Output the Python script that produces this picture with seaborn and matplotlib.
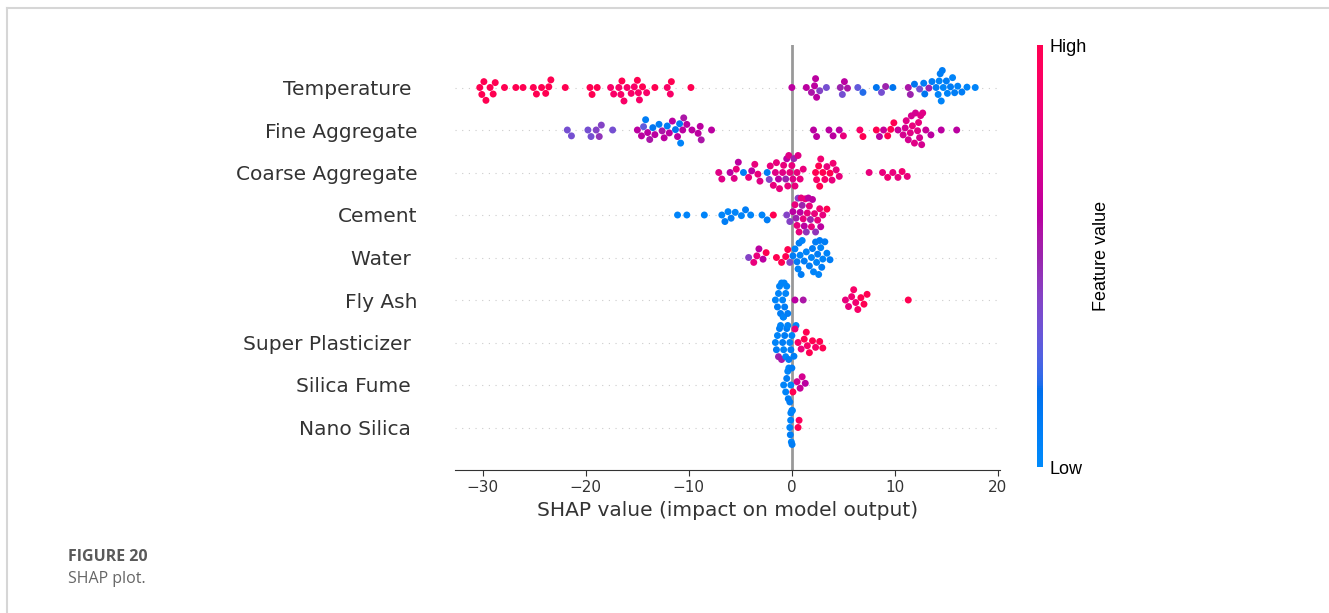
import warnings
warnings.filterwarnings("ignore")
import numpy as np
import pandas as pd
import matplotlib
matplotlib.use("Agg")
import matplotlib.pyplot as plt
from matplotlib import font_manager
from matplotlib.colors import LinearSegmentedColormap, Normalize
from matplotlib.cm import ScalarMappable
from matplotlib.lines import Line2D
import seaborn as sns

# ---------------- data ----------------
features = ["Temperature ", "Fine Aggregate", "Coarse Aggregate", "Cement",
            "Water ", "Fly Ash", "Super Plasticizer ", "Silica Fume ", "Nano Silica "]
xticks = [-30, -20, -10, 0, 10, 20]

temp_shap = [-30.3, -30.1, -29.9, -29.7, -29.3, -29.0, -28.8, -27.9, -26.8, -26.1, -25.1, -24.8,
             -24.3, -23.9, -23.6, -23.4, -22.0, -19.6, -19.4, -18.9, -17.6, -17.3, -16.8, -16.6,
             -16.5, -16.3, -16.0, -15.6, -15.3, -15.0, -14.9, -14.8, -14.5, -14.1, -13.3, -12.1,
             -11.8, -11.7, -9.8,
             0.0, 1.4, 1.9, 2.2, 2.3, 2.4, 2.7, 3.35, 4.7, 4.9, 5.1, 5.4, 6.4, 6.9, 8.2, 8.7, 9.1,
             9.8, 11.3, 11.5, 11.9, 12.4, 12.8, 12.9, 13.3, 13.6, 14.0, 14.2, 14.3, 14.4, 14.5,
             14.6, 14.7, 15.0, 15.1, 15.4, 15.6, 15.8, 16.1, 16.5, 17.0, 17.8]
temp_fv = [1, 1, 1, 1, 1, 1, 1, 1, 1, 1, 1, 1,
           1, 1, 1, 1, 1, 1, 1, 1, 0.9, 0.9, 0.9, 0.9,
           1, 0.9, 0.9, 0.9, 0.9, 1, 0.9, 0.9, 1, 0.9, 1, 0.9,
           0.9, 1, 1,
           0.6, 0.6, 0.55, 0.6, 0.6, 0.6, 0.4, 0.35, 0.5, 0.35, 0.6, 0.55, 0.3, 0.2, 0.15, 0.35, 0.5,
           0.15, 0.55, 0.5, 0.15, 0.35, 0.1, 0.15, 0.5, 0.1, 0.1, 0.05, 0.05, 0.1, 0.05,
           0.1, 0.05, 0.1, 0.05, 0.1, 0.05, 0.1, 0.05, 0.1, 0.05, 0.05]

fine_shap = [-21.8, -21.4, -19.8, -19.5, -19.0, -18.7, -18.5, -17.4, -15.0, -14.6, -14.4, -14.2,
             -14.0, -13.8, -13.5, -13.3, -12.9, -12.6, -12.4, -12.1, -11.9, -11.6, -11.3, -11.1,
             -10.9, -10.8, -10.6, -10.5, -10.2, -9.7, -9.1, -8.9, -8.8, -7.8,
             2.1, 2.4, 3.6, 4.0, 4.6, 5.0, 6.6, 6.9, 8.2, 8.5, 8.9, 9.3, 9.6, 9.9, 10.3, 10.8,
             11.0, 11.1, 11.3, 11.5, 11.6, 11.7, 11.9, 12.0, 12.2, 12.3, 12.4, 12.5, 12.6, 12.7,
             13.0, 13.5, 14.5, 16.0]
fine_fv = [0.35, 0.35, 0.35, 0.35, 0.4, 0.45, 0.4, 0.35, 0.6, 0.6, 0.3, 0.1,
           0.6, 0.55, 0.15, 0.6, 0.1, 0.55, 0.6, 0.1, 0.6, 0.6, 0.15, 0.6,
           0.1, 0.05, 0.6, 0.55, 0.6, 0.6, 0.6, 0.6, 0.55, 0.6,
           0.6, 0.6, 0.6, 0.6, 0.6, 0.8, 0.9, 1, 1, 0.6, 0.65, 1, 1, 1, 0.65, 0.7,
           0.7, 0.75, 0.7, 0.75, 0.7, 0.8, 0.75, 0.7, 0.75, 0.8, 0.7, 0.75, 0.7, 0.75,
           0.65, 0.6, 0.6, 0.6]

coarse_shap = [-7.1, -6.8, -6.0, -5.6, -5.4, -5.2, -4.7, -4.2, -3.9, -3.6, -3.3, -3.1, -2.4, -2.2,
               -2.1, -1.8, -1.6, -1.5, -1.3, -1.2, -0.9, -0.8, -0.6, -0.5, -0.4, -0.3, -0.2, 0.0,
               0.1, 0.2, 0.3, 0.5, 0.6, 0.8, 1.1,
               2.3, 2.4, 2.6, 2.7, 2.8, 3.0, 3.2, 3.4, 3.7, 3.9, 4.0, 4.3, 4.6,
               7.5, 8.8, 9.3, 9.8, 10.3, 10.7, 11.2]
coarse_fv = [0.75, 0.75, 0.6, 0.75, 0.8, 0.6, 0.1, 0.8, 0.6, 0.8, 0.8, 0.75, 0.1, 0.4,
             0.8, 0.8, 0.75, 0.8, 0.6, 0.8, 0.75, 0.8, 0.5, 0.6, 0.8, 0.75, 0.8, 0.8,
             0.75, 0.5, 0.8, 0.8, 0.75, 0.8, 0.8,
             1, 0.9, 1, 1, 0.85, 1, 0.9, 0.8, 1, 0.8, 0.85, 0.8, 0.8,
             0.8, 0.8, 0.85, 0.8, 0.8, 0.85, 0.8]

cement_shap = [-11.1, -10.2, -8.5, -6.8, -6.5, -6.2, -5.9, -5.5, -4.9, -4.5, -4.0, -2.9, -2.4,
               -1.8, -0.5, -0.2,
               0.1, 0.3, 0.4, 0.5, 0.6, 0.7, 0.8, 0.9, 1.0, 1.1, 1.2, 1.3, 1.4, 1.5, 1.6, 1.7,
               1.8, 1.9, 2.0, 2.2, 2.3, 2.5, 2.7, 2.8, 3.0, 3.4]
cement_fv = [0.05, 0.05, 0.05, 0.05, 0.1, 0.05, 0.1, 0.05, 0.05, 0.1, 0.05, 0.05, 0.1,
             1, 0.4, 0.4,
             0.6, 0.8, 0.5, 0.8, 0.4, 0.8, 0.6, 0.8, 0.5, 0.8, 0.6, 0.8, 0.45, 0.8, 0.6, 0.8,
             0.5, 0.8, 0.6, 0.8, 0.45, 0.8, 0.85, 0.6, 0.8, 1]

water_shap = [-4.2, -3.7, -3.4, -3.2, -2.8, -2.5, -1.5, -1.0, -0.6, -0.4, -0.2,
              0.1, 0.3, 0.5, 0.6, 0.7, 0.8, 0.9, 1.0, 1.2, 1.4, 1.7, 1.9, 2.0, 2.1, 2.3, 2.4,
              2.5, 2.6, 2.7, 2.8, 2.9, 3.0, 3.2, 3.4, 3.7]
water_fv = [0.4, 0.8, 0.8, 0.6, 0.6, 1, 1, 1, 1, 1, 0.4,
            0.1, 0.05, 0.1, 0.05, 0.1, 0.05, 0.1, 0.05, 0.1, 0.05, 0.1, 0.05, 0.1, 0.05, 0.1, 0.05,
            0.1, 0.05, 0.1, 0.05, 0.1, 0.05, 0.1, 0.05, 0.1]

flyash_shap = [-1.6, -1.4, -1.3, -1.2, -1.1, -1.0, -0.9, -0.85, -0.8, -0.75, -0.7, -0.6, -0.5,
               -0.4, 0.3, 1.1, 5.2, 5.5, 5.8, 6.0, 6.2, 6.4, 6.7, 7.0, 7.3, 11.3]
flyash_fv = [0.05, 0.1, 0.05, 0.05, 0.1, 0.05, 0.05, 0.1, 0.05, 0.05, 0.1, 0.05, 0.05,
             0.1, 0.6, 0.55, 0.8, 0.8, 0.85, 0.9, 0.85, 0.9, 1, 1, 1, 1]

sp_shap = [-1.6, -1.5, -1.4, -1.3, -1.2, -1.1, -1.0, -0.9, -0.8, -0.7, -0.6, -0.5, -0.4, -0.3,
           -0.2, -0.1, 0.0, 0.2, 0.4,
           0.3, 0.6, 0.9, 1.2, 1.4, 1.5, 1.7, 2.0, 2.3, 2.7, 3.0]
sp_fv = [0.05, 0.1, 0.05, 0.5, 0.1, 0.05, 0.55, 0.1, 0.05, 0.1, 0.05, 0.1, 0.05, 0.1,
         0.05, 0.1, 0.05, 0.1, 0.05,
         0.8, 0.9, 0.8, 1, 1, 0.9, 1, 1, 0.9, 1, 1]

sf_shap = [-0.8, -0.6, -0.5, -0.4, -0.35, -0.3, -0.2, -0.1, 0.0, 0.1, 0.5, 0.8, 1.0, 1.3]
sf_fv = [0.05, 0.05, 0.1, 0.05, 0.1, 0.05, 0.1, 0.05, 0.1, 1, 0.7, 0.65, 0.7, 0.6]

ns_shap = [-0.2, -0.15, -0.12, -0.1, -0.05, 0.0, 0.02, 0.05, 0.6, 0.7]
ns_fv = [0.05, 0.1, 0.05, 0.05, 0.05, 0.1, 0.1, 0.05, 1, 0.95]

all_shap = [temp_shap, fine_shap, coarse_shap, cement_shap, water_shap,
            flyash_shap, sp_shap, sf_shap, ns_shap]
all_fv = [temp_fv, fine_fv, coarse_fv, cement_fv, water_fv,
          flyash_fv, sp_fv, sf_fv, ns_fv]

rows = []
for name, sv, fv in zip(features, all_shap, all_fv):
    for s, f in zip(sv, fv):
        rows.append((name, s, f))
df = pd.DataFrame(rows, columns=["feature", "shap", "fv"])

# ---------------- SHAP red-blue colormap (LCH interpolation) ----------------
def lch_to_rgb(l, c, h):
    a = c * np.cos(h)
    b = c * np.sin(h)
    fy = (l + 16.0) / 116.0
    fx = fy + a / 500.0
    fz = fy - b / 200.0
    def finv(t):
        return t ** 3 if t ** 3 > 0.008856 else (t - 16.0 / 116.0) / 7.787
    xyz = np.array([0.95047 * finv(fx), 1.0 * finv(fy), 1.08883 * finv(fz)])
    m = np.array([[3.2406, -1.5372, -0.4986],
                  [-0.9689, 1.8758, 0.0415],
                  [0.0557, -0.2040, 1.0570]])
    lin = m @ xyz
    rgb = np.where(lin > 0.0031308, 1.055 * np.power(np.clip(lin, 1e-9, None), 1 / 2.4) - 0.055,
                   12.92 * lin)
    return np.clip(rgb, 0, 1)

blue_lch = [54.0, 70.0, 4.6588]
red_lch = [54.0, 90.0, 0.35470565 + 2 * np.pi]
l_mid = 40.0
nsteps = 100
l_vals = list(np.linspace(blue_lch[0], l_mid, nsteps // 2)) + list(np.linspace(l_mid, red_lch[0], nsteps // 2))
c_vals = np.linspace(blue_lch[1], red_lch[1], nsteps)
h_vals = np.linspace(blue_lch[2], red_lch[2], nsteps)
cmap = LinearSegmentedColormap.from_list(
    "red_blue", [lch_to_rgb(l, c, h) for l, c, h in zip(l_vals, c_vals, h_vals)])

avail = {f.name for f in font_manager.fontManager.ttflist}
cap_family = next((f for f in ["Liberation Sans Narrow", "DejaVu Sans Condensed", "Open Sans"]
                   if f in avail), "DejaVu Sans")

# ---------------- figure ----------------
W, H = 1329, 613
fig = plt.figure(figsize=(W / 100, H / 100), dpi=100)
ax = fig.add_axes([455 / W, 1 - 470 / H, 545 / W, 425 / H])

for i in range(len(features)):
    ax.axhline(i, color="#cccccc", lw=0.8, dashes=(1, 5), zorder=-1)
ax.axvline(0, color="#999999", lw=2, zorder=-1)

sns.swarmplot(data=df, x="shap", y="feature", hue="fv", order=features,
              palette=cmap, hue_norm=(0, 1), size=5, linewidth=0,
              orient="h", legend=False, ax=ax, zorder=3)

ax.set_ylim(len(features), -1)
ax.set_xticks(xticks)
ax.set_xlabel("SHAP value (impact on model output)", fontsize=14.5, color="#333333")
ax.set_ylabel("")
for sp in ["left", "right", "top"]:
    ax.spines[sp].set_visible(False)
ax.spines["bottom"].set_color("#333333")
ax.tick_params(axis="x", labelsize=11, color="#333333", labelcolor="#333333", length=4)
ax.tick_params(axis="y", length=0, pad=27, labelsize=14.5, labelcolor="#333333")

# colorbar
cax = fig.add_axes([1037 / W, 1 - 467 / H, 6 / W, 422 / H])
cb = fig.colorbar(ScalarMappable(norm=Normalize(0, 1), cmap=cmap), cax=cax, ticks=[0, 1])
cb.set_ticklabels(["Low", "High"])
cb.outline.set_visible(False)
cb.ax.tick_params(length=0, pad=5, labelsize=13)
for t in cb.ax.get_yticklabels():
    t.set_fontfamily("Liberation Sans")
cb.set_label("Feature value", size=13, labelpad=4, family="Liberation Sans")

# page frame and caption
fig.add_artist(Line2D([7 / W, 1], [1 - 8 / H, 1 - 8 / H], transform=fig.transFigure,
                      color="#d6d6d6", lw=1.5))
fig.add_artist(Line2D([7 / W, 7 / W], [0, 1 - 8 / H], transform=fig.transFigure,
                      color="#d6d6d6", lw=1.5))
fig.text(68 / W, 1 - 557 / H, "FIGURE 20", fontsize=11.5, fontweight="bold", color="#5a5a5a",
         family=cap_family, va="center", ha="left")
fig.text(68 / W, 1 - 579 / H, "SHAP plot.", fontsize=11.5, color="#666666",
         family=cap_family, va="center", ha="left")

fig.savefig("out.png", dpi=100)
